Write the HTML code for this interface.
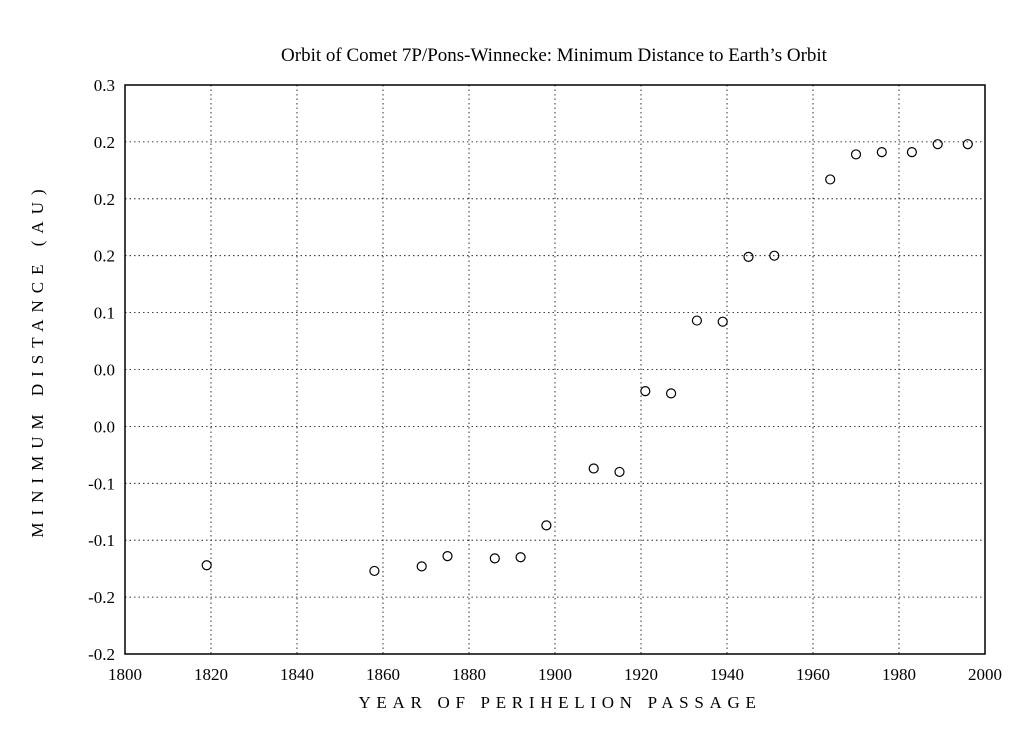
<!DOCTYPE html>
<html><head><meta charset="utf-8"><style>
body{margin:0;background:#fff;}
svg{display:block;font-family:"Liberation Serif",serif;}
</style></head><body>
<svg id="chart" width="1024" height="738" viewBox="0 0 1024 738" xmlns="http://www.w3.org/2000/svg">
<rect width="1024" height="738" fill="#fff"/>
<text x="554" y="61" font-size="19" text-anchor="middle">Orbit of Comet 7P/Pons-Winnecke: Minimum Distance to Earth’s Orbit</text>
<text transform="translate(43,360) rotate(-90)" font-size="17" text-anchor="middle" letter-spacing="7">MINIMUM DISTANCE (AU)</text>
<text x="560" y="708" font-size="17" text-anchor="middle" letter-spacing="5.7">YEAR OF PERIHELION PASSAGE</text>
<g id="grid"></g>
<g id="ticks"></g>
<rect x="125" y="85" width="860" height="569" fill="none" stroke="#000" stroke-width="1.5"/>
<g id="points"></g>
</svg>
<script>
const years=[1819,1858,1869,1875,1886,1892,1898,1909,1915,1921,1927,1933,1939,1945,1951,1964,1970,1976,1983,1989,1996];
const distances=[-0.122,-0.127,-0.123,-0.114,-0.116,-0.115,-0.087,-0.037,-0.040,0.031,0.029,0.093,0.092,0.149,0.150,0.217,0.239,0.241,0.241,0.248,0.248];
const xTicks=[1800,1820,1840,1860,1880,1900,1920,1940,1960,1980,2000];
const yTicks=[0.3,0.25,0.2,0.15,0.1,0.05,0,-0.05,-0.1,-0.15,-0.2];
const yTickLabels=["0.3","0.2","0.2","0.2","0.1","0.0","0.0","-0.1","-0.1","-0.2","-0.2"];
const X0=125,X1=985,Y0=654,Y1=85;
const xs=v=>X0+(v-1800)/200*(X1-X0);
const ys=v=>Y0-(v+0.2)/0.5*(Y0-Y1);
const NS="http://www.w3.org/2000/svg";
function mk(t,a,p){const e=document.createElementNS(NS,t);for(const k in a)e.setAttribute(k,a[k]);p.appendChild(e);return e;}
const grid=document.getElementById('grid'),ticks=document.getElementById('ticks'),pts=document.getElementById('points');
xTicks.forEach(v=>{
 const x=xs(v);
 const g=mk('line',{x1:x,x2:x,y1:Y1,y2:Y0,stroke:'#000','stroke-width':0.8,'stroke-dasharray':'1.5,3'},grid);
 
 
 const t=mk('text',{x:x,y:Y0+26,'font-size':17,'text-anchor':'middle'},ticks);
 t.textContent=v;
 
 
});
yTicks.forEach((v,i)=>{
 const y=ys(v);
 const g=mk('line',{x1:X0,x2:X1,y1:y,y2:y,stroke:'#000','stroke-width':0.8,'stroke-dasharray':'1.5,3'},grid);
 
 
 const t=mk('text',{x:X0-10,y:y+6,'font-size':17,'text-anchor':'end'},ticks);
 t.textContent=yTickLabels[i];
 
 
});
years.forEach((yr,i)=>{
 const c=mk('circle',{cx:xs(yr),cy:ys(distances[i]),r:4.5,fill:'none',stroke:'#000','stroke-width':1.2},pts);
 
 
});
</script>
</body></html>
